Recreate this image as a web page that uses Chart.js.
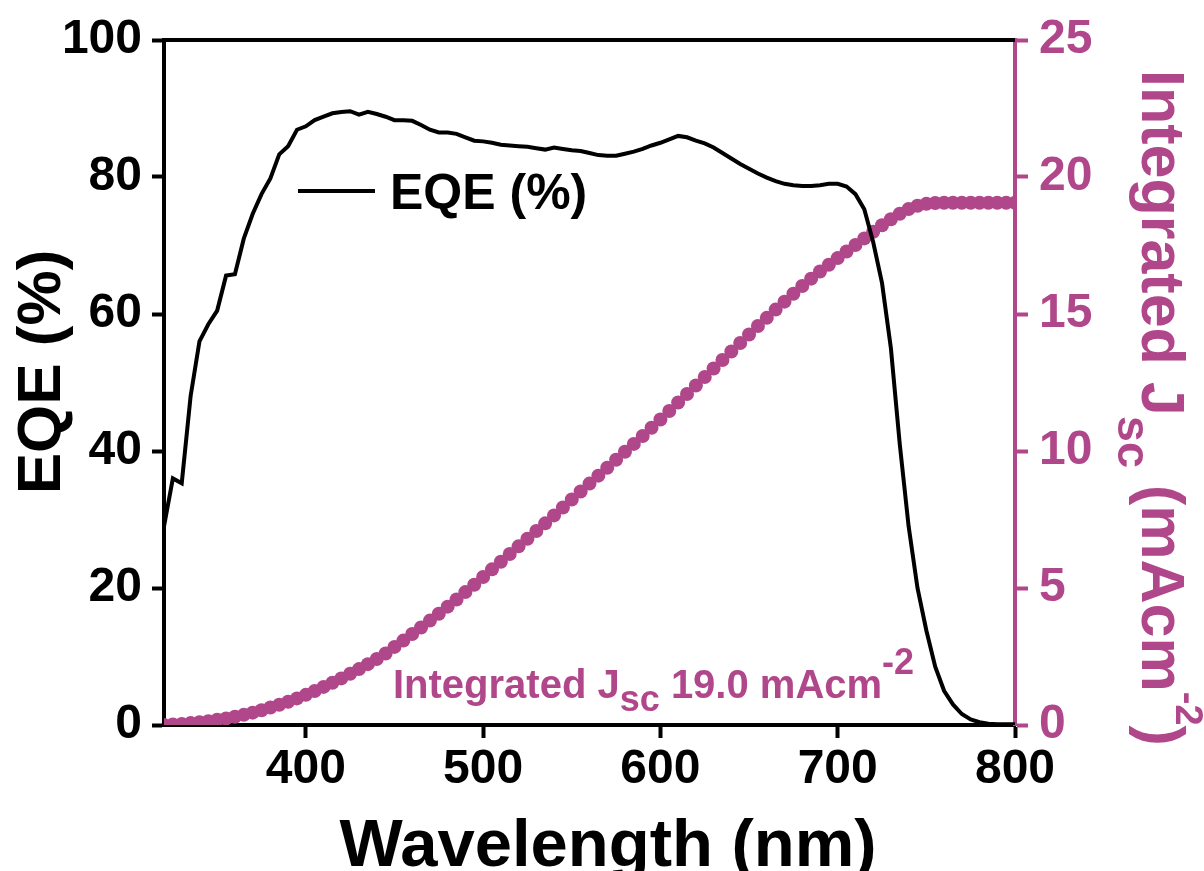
<!DOCTYPE html>
<html>
<head>
<meta charset="utf-8">
<script src="https://cdn.jsdelivr.net/npm/chart.js@4.4.1/dist/chart.umd.min.js"></script>
<style>
  html, body { margin: 0; padding: 0; background: #fff; }
  #wrap { width: 1204px; height: 871px; }
</style>
</head>
<body>
<div id="wrap"><canvas id="eqeChart" width="1204" height="871"></canvas></div>
<script>
// wavelength (nm), one point every 5 nm
const wavelength = [
  320, 325, 330, 335, 340, 345, 350, 355, 360, 365, 370, 375, 380, 385, 390, 395,
  400, 405, 410, 415, 420, 425, 430, 435, 440, 445, 450, 455, 460, 465, 470, 475,
  480, 485, 490, 495, 500, 505, 510, 515, 520, 525, 530, 535, 540, 545, 550, 555,
  560, 565, 570, 575, 580, 585, 590, 595, 600, 605, 610, 615, 620, 625, 630, 635,
  640, 645, 650, 655, 660, 665, 670, 675, 680, 685, 690, 695, 700, 705, 710, 715,
  720, 725, 730, 735, 740, 745, 750, 755, 760, 765, 770, 775, 780, 785, 790, 795, 800
];

// EQE (%)
const eqe = [
  29.0, 36.0, 35.3, 48.0, 56.0, 58.5, 60.5, 65.6, 65.8, 71.0, 74.6, 77.5, 79.8, 83.3, 84.5, 86.9,
  87.4, 88.3, 88.8, 89.3, 89.5, 89.6, 89.1, 89.5, 89.2, 88.8, 88.3, 88.3, 88.2, 87.6, 86.9, 86.5,
  86.5, 86.3, 85.8, 85.3, 85.2, 85.0, 84.7, 84.6, 84.5, 84.4, 84.2, 84.0, 84.3, 84.1, 83.9, 83.8,
  83.5, 83.2, 83.1, 83.1, 83.4, 83.7, 84.1, 84.6, 85.0, 85.5, 86.0, 85.8, 85.3, 84.9, 84.3, 83.5,
  82.7, 81.9, 81.2, 80.5, 79.9, 79.4, 79.0, 78.8, 78.7, 78.7, 78.8, 79.0, 79.0, 78.6, 77.5, 75.3,
  70.5, 64.5, 55.0, 41.0, 29.0, 20.0, 13.8, 8.5, 5.0, 3.0, 1.6, 0.8, 0.4, 0.2, 0.1, 0.1, 0.1
];

// integrated Jsc (mA cm^-2)
const jsc = [
  0.00, 0.02, 0.04, 0.07, 0.10, 0.14, 0.19, 0.24, 0.30, 0.37, 0.45, 0.54, 0.64, 0.74, 0.85, 0.97,
  1.10, 1.24, 1.39, 1.54, 1.70, 1.87, 2.04, 2.22, 2.41, 2.61, 2.85, 3.08, 3.32, 3.56, 3.81, 4.06,
  4.32, 4.58, 4.85, 5.12, 5.40, 5.68, 5.96, 6.24, 6.52, 6.80, 7.08, 7.36, 7.65, 7.94, 8.23, 8.52,
  8.81, 9.10, 9.39, 9.68, 9.97, 10.26, 10.55, 10.85, 11.15, 11.46, 11.77, 12.08, 12.39, 12.70, 13.01, 13.32,
  13.63, 13.94, 14.25, 14.56, 14.86, 15.16, 15.45, 15.74, 16.02, 16.29, 16.55, 16.80, 17.04, 17.28, 17.52, 17.76,
  18.00, 18.24, 18.46, 18.66, 18.83, 18.95, 19.02, 19.05, 19.06, 19.06, 19.06, 19.06, 19.06, 19.06, 19.06, 19.06, 19.06
];

const xTicks = [400, 500, 600, 700, 800];
const PINK = '#b1478b';
const FONT = '"Liberation Sans", Arial, sans-serif';

// draw a run of text pieces; each piece may be shifted (sub/superscript)
function drawRuns(ctx, runs, x, y) {
  let cx = x;
  runs.forEach(r => {
    ctx.font = 'bold ' + r.size + 'px ' + FONT;
    ctx.fillText(r.text, cx, y + (r.dy || 0));
    cx += ctx.measureText(r.text).width;
  });
}

const labelsPlugin = {
  id: 'labels',
  afterDraw(chart) {
    const ctx = chart.ctx;
    const a = chart.chartArea;
    ctx.save();

    // top frame line
    ctx.strokeStyle = '#000';
    ctx.lineWidth = 4;
    ctx.beginPath();
    ctx.moveTo(a.left - 2, a.top);
    ctx.lineTo(a.right, a.top);
    ctx.stroke();

    ctx.textBaseline = 'alphabetic';

    // left title
    ctx.save();
    ctx.translate(60, 372);
    ctx.rotate(-Math.PI / 2);
    ctx.fillStyle = '#000';
    ctx.textAlign = 'center';
    ctx.font = 'bold 62px ' + FONT;
    ctx.fillText('EQE (%)', 0, 0);
    ctx.restore();

    // bottom title
    ctx.fillStyle = '#000';
    ctx.textAlign = 'center';
    ctx.font = 'bold 67px ' + FONT;
    ctx.fillText('Wavelength (nm)', 608, 866);

    // right title
    ctx.save();
    ctx.translate(1142, 70);
    ctx.rotate(Math.PI / 2);
    ctx.fillStyle = PINK;
    ctx.textAlign = 'left';
    drawRuns(ctx, [
      { text: 'Integrated J', size: 61 },
      { text: 'sc', size: 47, dy: 24 },
      { text: ' (mAcm', size: 61 },
      { text: '-2', size: 38, dy: -34 },
      { text: ')', size: 61 }
    ], 0, 0);
    ctx.restore();

    // legend
    ctx.strokeStyle = '#000';
    ctx.lineWidth = 4;
    ctx.beginPath();
    ctx.moveTo(298, 191);
    ctx.lineTo(375, 191);
    ctx.stroke();
    ctx.fillStyle = '#000';
    ctx.textAlign = 'left';
    ctx.font = 'bold 50px ' + FONT;
    ctx.fillText('EQE (%)', 390, 209);

    // annotation
    ctx.fillStyle = PINK;
    drawRuns(ctx, [
      { text: 'Integrated J', size: 40 },
      { text: 'sc', size: 36, dy: 13 },
      { text: ' 19.0 mAcm', size: 40 },
      { text: '-2', size: 36, dy: -24 }
    ], 393, 698);

    ctx.restore();
  }
};

new Chart(document.getElementById('eqeChart'), {
  type: 'line',
  data: {
    datasets: [
      {
        label: 'EQE (%)',
        data: wavelength.map((w, i) => ({ x: w, y: eqe[i] })),
        yAxisID: 'y',
        borderColor: '#000',
        borderWidth: 4,
        pointRadius: 0,
        tension: 0
      },
      {
        label: 'Integrated Jsc',
        data: wavelength.map((w, i) => ({ x: w, y: jsc[i] })),
        yAxisID: 'y2',
        borderColor: PINK,
        borderWidth: 5,
        pointRadius: 7,
        pointBackgroundColor: PINK,
        pointBorderColor: PINK,
        pointBorderWidth: 0,
        tension: 0
      }
    ]
  },
  options: {
    responsive: false,
    animation: false,
    layout: { padding: { top: 40, left: 0, right: 0, bottom: 0 } },
    plugins: { legend: { display: false }, tooltip: { enabled: false } },
    scales: {
      x: {
        type: 'linear',
        position: 'bottom',
        min: 320,
        max: 800,
        afterBuildTicks: s => { s.ticks = xTicks.map(v => ({ value: v })); },
        afterFit: s => { s.height = 146; },
        ticks: { color: '#000', font: { family: FONT, size: 48, weight: 'bold' }, padding: 3, maxRotation: 0 },
        grid: { drawOnChartArea: false, drawTicks: true, tickLength: 13, tickWidth: 4, tickColor: '#000' },
        border: { display: true, width: 4, color: '#000' }
      },
      y: {
        position: 'left',
        min: 0,
        max: 100,
        ticks: { stepSize: 20, color: '#000', font: { family: FONT, size: 48, weight: 'bold' }, padding: 10 },
        afterFit: s => { s.width = 164; },
        grid: { drawOnChartArea: false, drawTicks: true, tickLength: 12, tickWidth: 4, tickColor: '#000' },
        border: { display: true, width: 4, color: '#000' }
      },
      y2: {
        position: 'right',
        min: 0,
        max: 25,
        ticks: { stepSize: 5, color: PINK, font: { family: FONT, size: 48, weight: 'bold' }, padding: 11 },
        afterFit: s => { s.width = 189; },
        grid: { drawOnChartArea: false, drawTicks: true, tickLength: 13, tickWidth: 4, tickColor: PINK },
        border: { display: true, width: 4, color: PINK }
      }
    }
  },
  plugins: [labelsPlugin]
});
</script>
</body>
</html>
